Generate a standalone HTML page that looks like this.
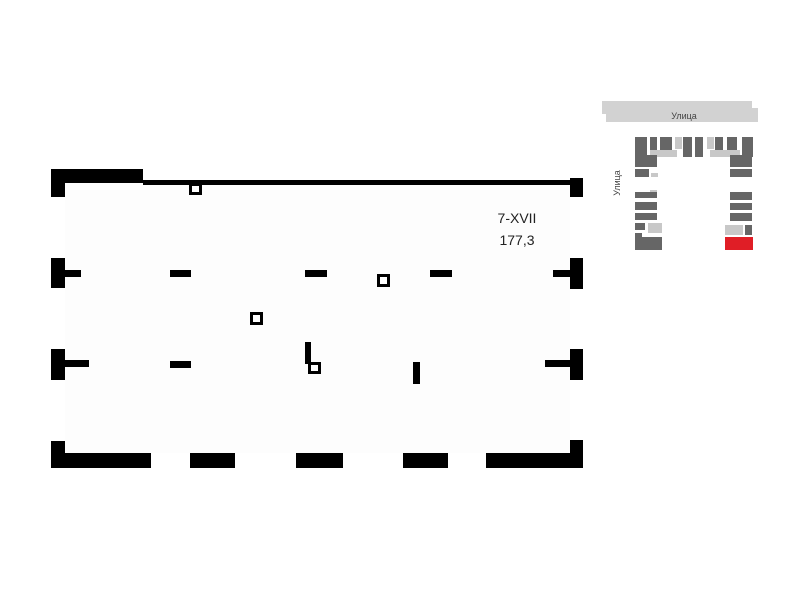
<!DOCTYPE html>
<html><head><meta charset="utf-8"><style>
body{margin:0;background:#fff;width:800px;height:600px;overflow:hidden}
</style></head><body>
<svg width="800" height="600" viewBox="0 0 800 600" xmlns="http://www.w3.org/2000/svg">
<rect x="65" y="183" width="505" height="270" fill="#fdfdfd"/>
<g fill="#000">
<!-- top wall -->
<rect x="51" y="169" width="92" height="14"/>
<rect x="51" y="169" width="14" height="28"/>
<rect x="143" y="180" width="440" height="5"/>
<rect x="570" y="178" width="13" height="19"/>
<!-- row1 -->
<rect x="51" y="258" width="14" height="30"/>
<rect x="51" y="270" width="30" height="7"/>
<rect x="170" y="270" width="21" height="7"/>
<rect x="305" y="270" width="22" height="7"/>
<rect x="430" y="270" width="22" height="7"/>
<rect x="570" y="258" width="13" height="31"/>
<rect x="553" y="270" width="30" height="7"/>
<!-- row2 -->
<rect x="51" y="349" width="14" height="31"/>
<rect x="51" y="360" width="38" height="7"/>
<rect x="170" y="361" width="21" height="7"/>
<rect x="305" y="342" width="6" height="22"/>
<rect x="413" y="362" width="7" height="22"/>
<rect x="570" y="349" width="13" height="31"/>
<rect x="545" y="360" width="38" height="7"/>
<!-- bottom -->
<rect x="51" y="441" width="14" height="27"/>
<rect x="51" y="453" width="100" height="15"/>
<rect x="190" y="453" width="45" height="15"/>
<rect x="296" y="453" width="47" height="15"/>
<rect x="403" y="453" width="45" height="15"/>
<rect x="486" y="453" width="97" height="15"/>
<rect x="570" y="440" width="13" height="28"/>
</g>
<g fill="#fff" stroke="#000" stroke-width="3">
<rect x="190.5" y="184.5" width="10" height="9"/>
<rect x="251.5" y="313.5" width="10" height="10"/>
<rect x="309.5" y="363.5" width="10" height="9"/>
<rect x="378.5" y="275.5" width="10" height="10"/>
</g>
<text x="517" y="223" font-family="Liberation Sans, sans-serif" font-size="14" text-anchor="middle" fill="#222">7-XVII</text>
<text x="517" y="245" font-family="Liberation Sans, sans-serif" font-size="14" text-anchor="middle" fill="#222">177,3</text>
<!-- minimap -->
<path d="M602 101H752V108H758V122H606V114H602Z" fill="#d2d2d2"/>
<text x="684" y="119" font-family="Liberation Sans, DejaVu Sans, sans-serif" font-size="9" text-anchor="middle" fill="#444">Улица</text>
<text transform="translate(620,183) rotate(-90)" font-family="Liberation Sans, DejaVu Sans, sans-serif" font-size="9" text-anchor="middle" fill="#444">Улица</text>
<g fill="#c8c8c8">
<rect x="675" y="137" width="7" height="12"/>
<rect x="707" y="137" width="7" height="12"/>
<rect x="650" y="150" width="27" height="7"/>
<rect x="710" y="150" width="30" height="7"/>
<rect x="651" y="173" width="7" height="4"/>
<rect x="650" y="190" width="7" height="4"/>
<rect x="648" y="223" width="14" height="10"/>
<rect x="725" y="225" width="18" height="10"/>
</g>
<g fill="#666">
<rect x="635" y="137" width="12" height="20"/>
<rect x="650" y="137" width="7" height="13"/>
<rect x="660" y="137" width="12" height="13"/>
<rect x="683" y="137" width="9" height="20"/>
<rect x="695" y="137" width="8" height="20"/>
<rect x="715" y="137" width="8" height="13"/>
<rect x="727" y="137" width="10" height="13"/>
<rect x="742" y="137" width="11" height="20"/>
<rect x="635" y="155" width="22" height="12"/>
<rect x="635" y="169" width="14" height="8"/>
<rect x="635" y="192" width="22" height="6"/>
<rect x="635" y="202" width="22" height="8"/>
<rect x="635" y="213" width="22" height="7"/>
<rect x="635" y="223" width="10" height="7"/>
<rect x="635" y="233" width="7" height="5"/>
<rect x="635" y="237" width="27" height="13"/>
<rect x="730" y="155" width="22" height="12"/>
<rect x="730" y="169" width="22" height="8"/>
<rect x="730" y="192" width="22" height="8"/>
<rect x="730" y="203" width="22" height="7"/>
<rect x="730" y="213" width="22" height="8"/>
<rect x="745" y="225" width="7" height="10"/>
</g>
<rect x="725" y="237" width="28" height="13" fill="#e01e26"/>
</svg>
</body></html>
